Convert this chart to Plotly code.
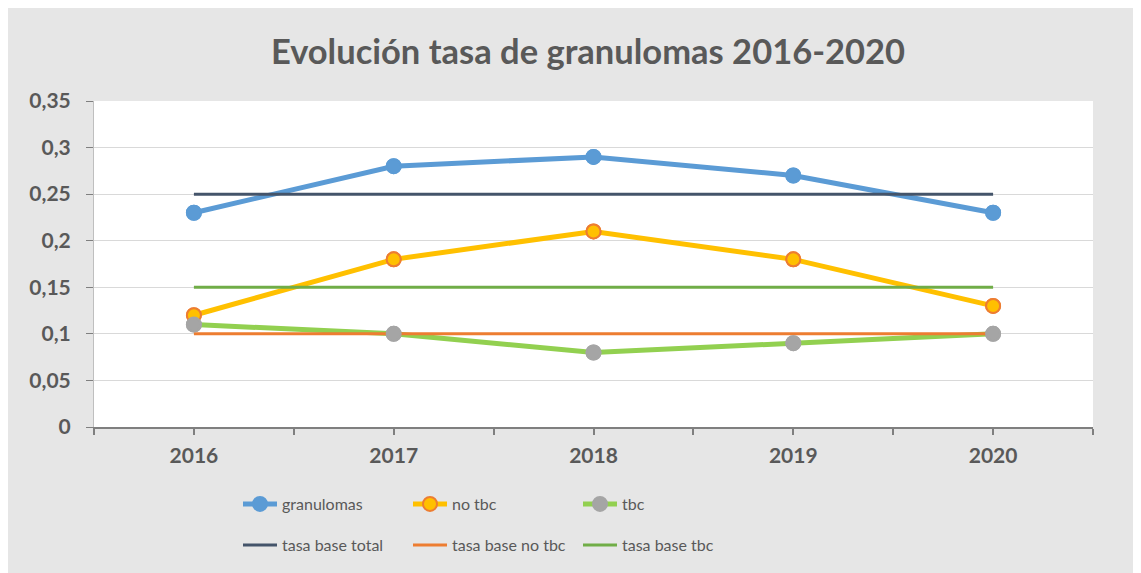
import plotly.graph_objects as go

years = ["2016", "2017", "2018", "2019", "2020"]
granulomas = [0.23, 0.28, 0.29, 0.27, 0.23]
no_tbc = [0.12, 0.18, 0.21, 0.18, 0.13]
tbc = [0.11, 0.10, 0.08, 0.09, 0.10]
base_total = [0.25, 0.25, 0.25, 0.25, 0.25]
base_no_tbc = [0.10, 0.10, 0.10, 0.10, 0.10]
base_tbc = [0.15, 0.15, 0.15, 0.15, 0.15]
y_ticks = [0, 0.05, 0.1, 0.15, 0.2, 0.25, 0.3, 0.35]
y_labels = ["0", "0,05", "0,1", "0,15", "0,2", "0,25", "0,3", "0,35"]

xs = list(range(len(years)))
FONT = "Lato, 'Open Sans', sans-serif"
TXT = "#595959"

series = [
    ("granulomas", granulomas, "#5B9BD5", "#5B9BD5", "#5B9BD5"),
    ("no tbc", no_tbc, "#FFC000", "#FFC000", "#ED7D31"),
    ("tbc", tbc, "#92D050", "#A5A5A5", "#A5A5A5"),
]
bases = [
    ("tasa base total", base_total, "#44546A"),
    ("tasa base no tbc", base_no_tbc, "#ED7D31"),
    ("tasa base tbc", base_tbc, "#70AD47"),
]

fig = go.Figure()
for name, vals, lc, mc, mlc in series:
    fig.add_trace(go.Scatter(
        x=xs, y=vals, name=name, mode="lines+markers", legend="legend",
        line=dict(color=lc, width=5),
        marker=dict(size=14, color=mc, line=dict(color=mlc, width=2)),
    ))
for name, vals, c in bases:
    fig.add_trace(go.Scatter(
        x=xs, y=vals, name=name, mode="lines", legend="legend2",
        line=dict(color=c, width=3),
    ))
for name, vals, lc, mc, mlc in series:
    fig.add_trace(go.Scatter(
        x=xs, y=vals, name=name, mode="markers", showlegend=False,
        marker=dict(size=14, color=mc, line=dict(color=mlc, width=2)),
    ))

# page has 8px body margin; figure coords = page coords - 8
OFF = 8
W, H = 1141, 573
L, T = 94 - OFF, 101 - OFF
R = W - (1093 - OFF)
B = H - (427 - OFF)
pw, ph = W - L - R, H - T - B


def px(page_x):
    return (page_x - OFF - L) / pw


def py(page_y):
    return (H - B - (page_y - OFF)) / ph


fig.update_layout(
    width=W, height=H,
    margin=dict(l=L, r=R, t=T, b=B),
    paper_bgcolor="#e6e6e6",
    plot_bgcolor="white",
    font=dict(family=FONT, color=TXT),
    title=dict(text="Evolución tasa de granulomas 2016-2020", xref="container",
               x=(588 - OFF) / W, xanchor="center",
               y=1 - (52 - OFF) / H, yanchor="middle",
               font=dict(family=FONT, size=34.5, color=TXT, weight="bold")),
    xaxis=dict(
        range=[-0.5, 4.5], tickmode="array", tickvals=xs, ticktext=years,
        showgrid=False, zeroline=False, showline=True, linecolor="#7f7f7f", linewidth=2,
        ticks="outside", ticklen=6, tickcolor="#7f7f7f", tickwidth=2,
        minor=dict(ticks="outside", ticklen=6, tickcolor="#7f7f7f", tickwidth=2, dtick=0.5, tick0=-0.5, showgrid=False),
        tickfont=dict(family=FONT, size=21, color=TXT, weight="bold"), ticklabelstandoff=3,
    ),
    yaxis=dict(
        range=[0, 0.35], tickmode="array", tickvals=y_ticks, ticktext=y_labels,
        showgrid=True, gridcolor="#d9d9d9", gridwidth=1, zeroline=False,
        showline=True, linecolor="#bfbfbf", linewidth=1,
        ticks="outside", ticklen=7, tickcolor="#7f7f7f",
        tickfont=dict(family=FONT, size=21, color=TXT, weight="bold"), ticklabelstandoff=11,
    ),
    legend=dict(orientation="h", x=px(238), xanchor="left", y=py(487), yanchor="top",
                entrywidth=121, entrywidthmode="pixels", itemwidth=34, bgcolor="rgba(0,0,0,0)",
                font=dict(family=FONT, size=16, color=TXT), traceorder="normal"),
    legend2=dict(orientation="h", x=px(238), xanchor="left", y=py(528), yanchor="top",
                 entrywidth=121, entrywidthmode="pixels", itemwidth=34, bgcolor="rgba(0,0,0,0)",
                 font=dict(family=FONT, size=16, color=TXT), traceorder="normal"),
    showlegend=True,
)

fig.write_html("out.html")
